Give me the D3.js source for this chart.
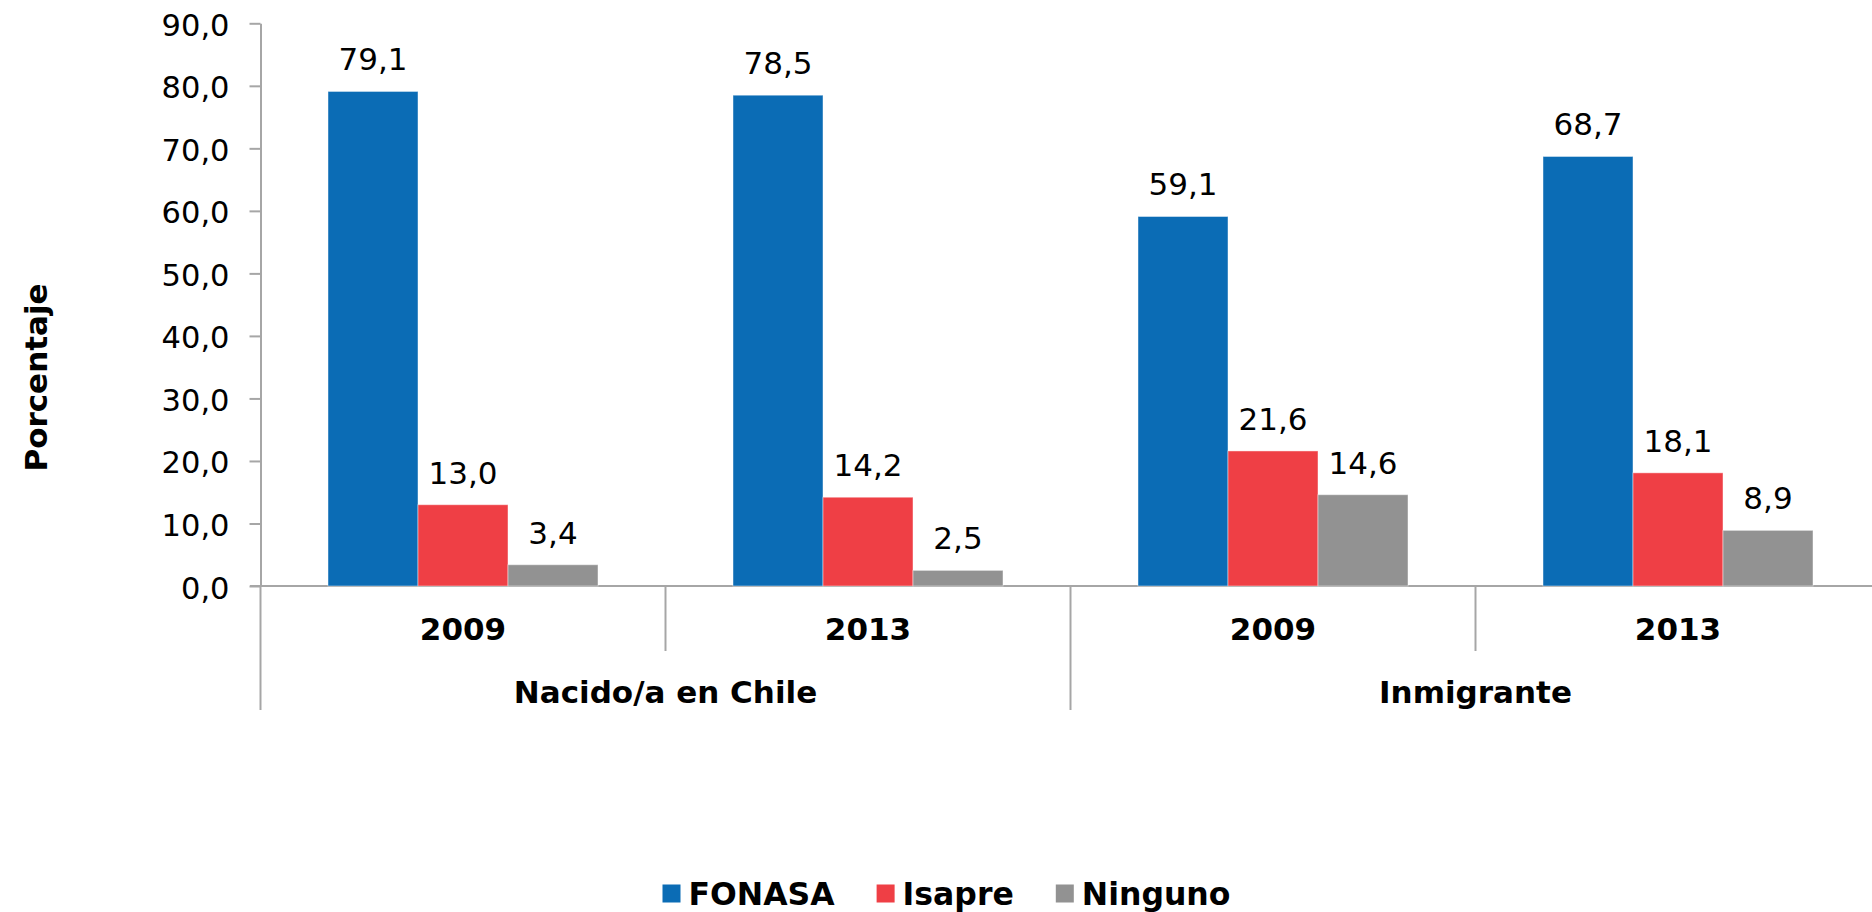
<!DOCTYPE html>
<html>
<head>
<meta charset="utf-8">
<script src="https://cdn.jsdelivr.net/npm/d3@7"></script>
<style>
  html, body { margin: 0; padding: 0; background: #fff; overflow: hidden; }
  svg { display: block; font-family: "DejaVu Sans", Verdana, sans-serif; }
</style>
</head>
<body>
<svg id="chart" width="1872" height="912"></svg>
<script>
// ---- data ----
const groups = ["Nacido/a en Chile", "Inmigrante"];
const years = ["2009", "2013"];
const series = ["FONASA", "Isapre", "Ninguno"];
const fonasa = [79.1, 78.5, 59.1, 68.7];
const isapre = [13.0, 14.2, 21.6, 18.1];
const ninguno = [3.4, 2.5, 14.6, 8.9];
const yTicks = [0, 10, 20, 30, 40, 50, 60, 70, 80, 90];
const colors = ["#0B6CB5", "#EF3F45", "#929292"];

const valuesBySeries = [fonasa, isapre, ninguno];
const cats = [];
groups.forEach((g, gi) => years.forEach((y, yi) => cats.push({ key: g + "|" + y, group: g, year: y, idx: gi * years.length + yi })));

const svg = d3.select("#chart");
const axisColor = "#A6A6A6";

const x0 = d3.scaleBand().domain(cats.map(c => c.key)).range([260.5, 1880.5]).padding(0);
const x1 = d3.scaleBand().domain(series).range([0, x0.bandwidth()]).paddingInner(0).paddingOuter(0.75);
const y = d3.scaleLinear().domain([0, 90]).range([586, 23.3]);

// y axis
const yAxis = d3.axisLeft(y).tickValues(yTicks).tickSize(11).tickSizeOuter(0)
  .tickFormat(d => d3.format(".1f")(d).replace(".", ","));
const gy = svg.append("g").attr("transform", "translate(260.5,0)").call(yAxis);
gy.select(".domain").attr("stroke", axisColor).attr("stroke-width", 2);
gy.selectAll(".tick line").attr("stroke", axisColor).attr("stroke-width", 2);
gy.selectAll(".tick text").attr("fill", "#000").attr("font-size", 30.5)
  .attr("font-family", "DejaVu Sans, Verdana, sans-serif")
  .attr("x", -31).attr("dy", null).attr("y", 0).attr("dominant-baseline", null)
  .attr("transform", "translate(0,12)");

// extension of y axis line below baseline
svg.append("line").attr("x1", 260.5).attr("x2", 260.5).attr("y1", 586).attr("y2", 710)
  .attr("stroke", axisColor).attr("stroke-width", 2);

// x axis line
svg.append("line").attr("x1", 250).attr("x2", 1872).attr("y1", y(0)).attr("y2", y(0))
  .attr("stroke", axisColor).attr("stroke-width", 2);

// separators
cats.forEach((c, i) => {
  if (i === 0) return;
  const xs = x0(c.key);
  const isGroupBoundary = c.idx % years.length === 0;
  svg.append("line").attr("x1", xs).attr("x2", xs).attr("y1", y(0)).attr("y2", isGroupBoundary ? 710 : 651)
    .attr("stroke", axisColor).attr("stroke-width", 2);
});

// bars
cats.forEach(c => {
  series.forEach((s, si) => {
    const v = valuesBySeries[si][c.idx];
    const bx = x0(c.key) + x1(s);
    svg.append("rect")
      .attr("x", bx).attr("y", y(v))
      .attr("width", x1.bandwidth()).attr("height", y(0) - y(v))
      .attr("fill", colors[si])
      .attr("stroke", "rgba(255,255,255,0.45)").attr("stroke-width", 1);
    svg.append("text")
      .attr("x", bx + x1.bandwidth() / 2).attr("y", y(v) - 21)
      .attr("text-anchor", "middle").attr("font-size", 31).attr("fill", "#000")
      .text(d3.format(".1f")(v).replace(".", ","));
  });
  // year label
  svg.append("text")
    .attr("x", x0(c.key) + x0.bandwidth() / 2).attr("y", 640)
    .attr("text-anchor", "middle").attr("font-size", 31).attr("font-weight", "bold")
    .text(c.year);
});

// group labels
groups.forEach((g, gi) => {
  const first = cats[gi * years.length], last = cats[gi * years.length + years.length - 1];
  const cx = (x0(first.key) + x0(last.key) + x0.bandwidth()) / 2;
  svg.append("text").attr("x", cx).attr("y", 703)
    .attr("text-anchor", "middle").attr("font-size", 31).attr("font-weight", "bold")
    .text(g);
});

// y axis title
svg.append("text")
  .attr("transform", "translate(47,377.5) rotate(-90)")
  .attr("text-anchor", "middle").attr("font-size", 31).attr("font-weight", "bold")
  .text("Porcentaje");

// legend
const leg = svg.append("g").attr("transform", "translate(0,904.5)");
let lx = 662.5;
series.forEach((s, si) => {
  leg.append("rect").attr("x", lx).attr("y", -20).attr("width", 18).attr("height", 18).attr("fill", colors[si]);
  const t = leg.append("text").attr("x", lx + 26).attr("y", 0)
    .attr("font-size", 31.5).attr("font-weight", "bold").attr("fill", "#000").text(s);
  lx += 26 + t.node().getComputedTextLength() + 42;
});
</script>
</body>
</html>
